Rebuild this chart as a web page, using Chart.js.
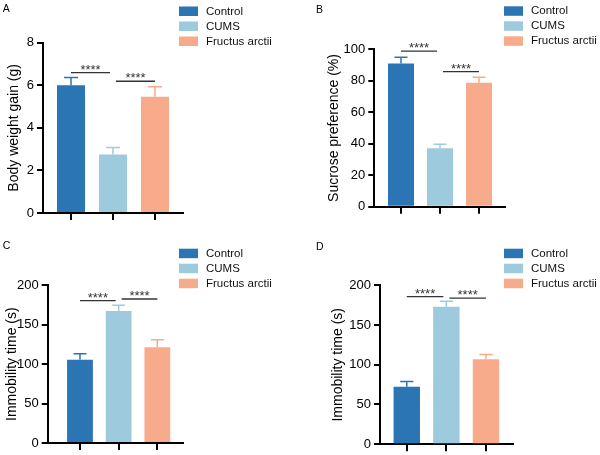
<!DOCTYPE html>
<html>
<head>
<meta charset="utf-8">
<title>Fructus arctii - behavioural tests</title>
<script src="https://cdn.jsdelivr.net/npm/chart.js@4.4.0/dist/chart.umd.min.js"></script>
<style>
  body { margin: 0; background: #fff; }
  #wrap { position: relative; width: 600px; height: 455px; overflow: hidden; }
  #wrap canvas { position: absolute; }
</style>
</head>
<body>
<div id="wrap">
  <canvas id="chartA" width="300" height="228" style="left:0;top:0"></canvas>
  <canvas id="chartB" width="300" height="228" style="left:300px;top:0"></canvas>
  <canvas id="chartC" width="300" height="227" style="left:0;top:228px"></canvas>
  <canvas id="chartD" width="300" height="227" style="left:300px;top:228px"></canvas>
</div>
<script>
const FONT = 'Arial, "Liberation Sans", Helvetica, sans-serif';

// groups
const groups = ['Control', 'CUMS', 'Fructus arctii'];
const groupColors = ['#2b75b4', '#9dcadd', '#f7ab8a'];

// A: body weight gain (g), mean + SEM
const weightGain = [6.0, 2.75, 5.46];
const weightGainErr = [0.37, 0.33, 0.47];
const weightGainTicks = [0, 2, 4, 6, 8];
const weightGainSig = [[0, 1, 6.59], [1, 2, 6.19]]; // [group, group, bracket height]

// B: sucrose preference (%)
const sucrose = [90.9, 37.1, 78.7];
const sucroseErr = [4.0, 2.5, 3.6];
const sucroseTicks = [0, 20, 40, 60, 80, 100];
const sucroseSig = [[0, 1, 98.9], [1, 2, 85.8]];

// C: immobility time (s)
const immobilityC = [105.7, 167.5, 121.4];
const immobilityCErr = [7.6, 7.2, 9.6];
const immobilityCTicks = [0, 50, 100, 150, 200];
const immobilityCSig = [[0, 1, 180.5], [1, 2, 182.6]];

// D: immobility time (s)
const immobilityD = [72.4, 173, 106.8];
const immobilityDErr = [6.6, 7.0, 6.2];
const immobilityDTicks = [0, 50, 100, 150, 200];
const immobilityDSig = [[0, 1, 185.8], [1, 2, 183.9]];

Chart.defaults.font.family = FONT;
Chart.defaults.color = '#000';

// one-sided error bars on top of each bar
const errorBars = {
  id: 'errorBars',
  afterDatasetsDraw(chart) {
    const { ctx, scales: { y } } = chart;
    chart.data.datasets.forEach((ds, i) => {
      const bar = chart.getDatasetMeta(i).data[0];
      const top = y.getPixelForValue(ds.data[0].y + ds.err);
      const cap = bar.width / 4;
      ctx.save();
      ctx.strokeStyle = ds.backgroundColor;
      ctx.lineWidth = 1.5;
      ctx.beginPath();
      ctx.moveTo(bar.x, bar.y);
      ctx.lineTo(bar.x, top);
      ctx.moveTo(bar.x - cap, top);
      ctx.lineTo(bar.x + cap, top);
      ctx.stroke();
      ctx.restore();
    });
  }
};

// significance brackets with ****
function sigBrackets(list) {
  return {
    id: 'sigBrackets',
    afterDraw(chart) {
      const { ctx, scales: { x, y } } = chart;
      ctx.save();
      ctx.strokeStyle = '#333';
      ctx.fillStyle = '#333';
      ctx.lineWidth = 1.3;
      ctx.font = '13px ' + FONT;
      ctx.textAlign = 'center';
      ctx.textBaseline = 'alphabetic';
      list.forEach(([a, b, h]) => {
        const x1 = x.getPixelForValue(a) + (a > 0 ? 3 : 0);
        const x2 = x.getPixelForValue(b) - (b < groups.length - 1 ? 3 : 0);
        const yy = y.getPixelForValue(h);
        ctx.beginPath();
        ctx.moveTo(x1, yy);
        ctx.lineTo(x2, yy);
        ctx.stroke();
        ctx.fillText('****', (x1 + x2) / 2, yy + 1);
      });
      ctx.restore();
    }
  };
}

// panel letter + legend
function panelDecor(p) {
  return {
    id: 'panelDecor',
    afterDraw(chart) {
      const { ctx } = chart;
      ctx.save();
      ctx.fillStyle = '#000';
      ctx.font = '10.5px ' + FONT;
      ctx.textAlign = 'left';
      ctx.textBaseline = 'alphabetic';
      ctx.fillText(p.letter, p.letterAt[0], p.letterAt[1]);
      ctx.font = '11.5px ' + FONT;
      ctx.textBaseline = 'middle';
      chart.data.datasets.forEach((ds, i) => {
        const top = p.legendAt[1] + i * 15;
        ctx.fillStyle = ds.backgroundColor;
        ctx.fillRect(p.legendAt[0], top, 19, 9.5);
        ctx.fillStyle = '#111';
        ctx.fillText(ds.label, p.legendAt[0] + 27, top + 5);
      });
      ctx.restore();
    }
  };
}

const panels = [
  { id: 'chartA', letter: 'A', title: 'Body weight gain (g)', values: weightGain, errors: weightGainErr,
    ticks: weightGainTicks, sig: weightGainSig,
    area: { left: 43, right: 183, top: 42.7, bottom: 213 }, xRange: [-0.667, 2.667], titleX: 14.3,
    letterAt: [2.7, 12.4], legendAt: [179, 6.5] },
  { id: 'chartB', letter: 'B', title: 'Sucrose preference (%)', values: sucrose, errors: sucroseErr,
    ticks: sucroseTicks, sig: sucroseSig,
    area: { left: 74.3, right: 205, top: 49.3, bottom: 206.7 }, xRange: [-0.685, 2.667], titleX: 33.7,
    letterAt: [16, 12.6], legendAt: [204, 6.3] },
  { id: 'chartC', letter: 'C', title: 'Immobility time (s)', values: immobilityC, errors: immobilityCErr,
    ticks: immobilityCTicks, sig: immobilityCSig,
    area: { left: 47.7, right: 182.7, top: 57.3, bottom: 215 }, xRange: [-0.835, 2.656], titleX: 12.3,
    letterAt: [2.7, 20.7], legendAt: [179, 20.7] },
  { id: 'chartD', letter: 'D', title: 'Immobility time (s)', values: immobilityD, errors: immobilityDErr,
    ticks: immobilityDTicks, sig: immobilityDSig,
    area: { left: 80, right: 213.3, top: 57.3, bottom: 218.3 }, xRange: [-0.676, 2.69], titleX: 38,
    letterAt: [16, 21.6], legendAt: [204, 20.7] }
];

function makeChart(p) {
  const el = document.getElementById(p.id);
  const W = el.width, H = el.height;
  const padLeft = p.titleX - 8.4;
  return new Chart(el, {
    type: 'bar',
    data: {
      datasets: groups.map((g, i) => ({
        label: g,
        data: [{ x: i, y: p.values[i] }],
        err: p.errors[i],
        backgroundColor: groupColors[i],
        borderWidth: 0,
        grouped: false,
        barPercentage: 0.667,
        categoryPercentage: 1
      }))
    },
    options: {
      responsive: false,
      animation: false,
      events: [],
      layout: { padding: { left: padLeft, top: p.area.top, right: W - p.area.right, bottom: 0 } },
      plugins: { legend: { display: false }, tooltip: { enabled: false } },
      scales: {
        x: {
          type: 'linear',
          min: p.xRange[0],
          max: p.xRange[1],
          offset: false,
          z: 1,
          afterBuildTicks: s => { s.ticks = groups.map((g, i) => ({ value: i })); },
          afterFit: s => { s.height = H - p.area.bottom; },
          ticks: { display: false },
          grid: { offset: false, drawOnChartArea: false, drawTicks: true, tickLength: 7, color: '#000', lineWidth: 2 },
          border: { color: '#000', width: 2 }
        },
        y: {
          min: p.ticks[0],
          max: p.ticks[p.ticks.length - 1],
          afterBuildTicks: s => { s.ticks = p.ticks.map(v => ({ value: v })); },
          afterFit: s => { s.width = p.area.left - padLeft; },
          ticks: { color: '#000', font: { size: 13 }, padding: 3 },
          grid: { drawOnChartArea: false, tickLength: 6, color: '#000', lineWidth: 2 },
          border: { color: '#000', width: 2 },
          title: { display: true, text: p.title, color: '#000', font: { size: 14 }, padding: 0 }
        }
      }
    },
    plugins: [errorBars, sigBrackets(p.sig), panelDecor(p)]
  });
}

panels.forEach(makeChart);
</script>
</body>
</html>
